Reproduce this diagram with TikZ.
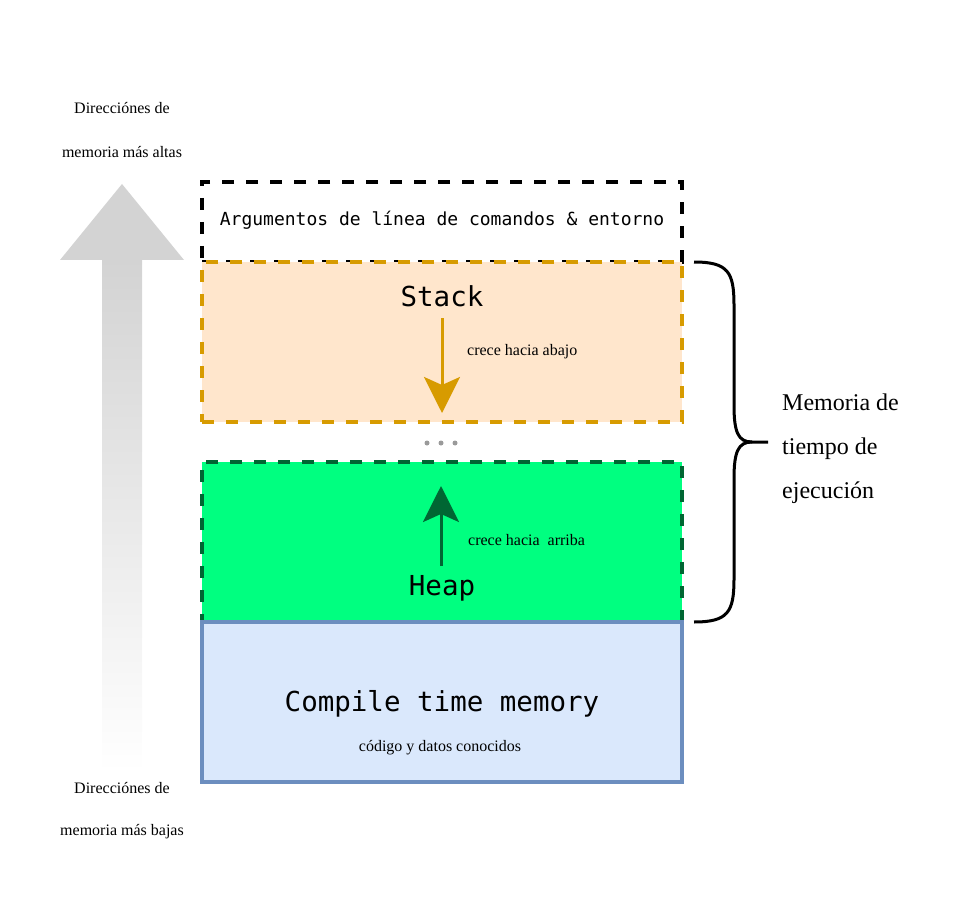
\documentclass[tikz,border=0pt]{standalone}
\usepackage{fontspec}
\setmainfont{Liberation Serif}
\setmonofont{DejaVu Sans Mono}
\usetikzlibrary{arrows.meta}
\definecolor{stackfill}{HTML}{FFE6CC}
\definecolor{stackline}{HTML}{D79B00}
\definecolor{heapfill}{HTML}{00FF80}
\definecolor{heapline}{HTML}{006633}
\definecolor{ctfill}{HTML}{DAE8FC}
\definecolor{ctline}{HTML}{6C8EBF}
\definecolor{biggray}{HTML}{D3D3D3}
\definecolor{dotgray}{HTML}{9A9A9A}
\tikzset{
  membox/.style={rectangle, minimum width=480pt, inner sep=0pt, line width=3.5pt},
  dashbox/.style={membox, dash pattern=on 12pt off 12pt},
  monotitle/.style={font=\ttfamily\fontsize{27.5}{32}\selectfont, inner sep=0pt},
  smalltxt/.style={font=\fontsize{16}{19}\selectfont, inner sep=0pt},
  bigtxt/.style={font=\fontsize{24}{28}\selectfont, inner sep=0pt, anchor=base west},
  growarrow/.style={line width=3pt, -{Stealth[length=36pt,width=36pt,inset=8pt]}},
}
\begin{document}
\begin{tikzpicture}[x=1pt,y=-1pt]
\useasboundingbox (0,0) rectangle (972,920);
% big gray arrow
\shade[top color=biggray, bottom color=white] (102,259) rectangle (142,772);
\fill[biggray] (60,260) -- (122,184) -- (184,260) -- cycle;
% left labels
\node[smalltxt] (hi1) at (122,108) {Direcciónes de};
\node[smalltxt] (hi2) at (122,152) {memoria más altas};
\node[smalltxt] (lo1) at (122,788) {Direcciónes de};
\node[smalltxt] (lo2) at (122,832) {memoria más bajas};
% boxes
\node[dashbox, draw=black, minimum height=80pt] (args) at (442,222) {};
\node[dashbox, draw=stackline, fill=stackfill, minimum height=160pt] (stack) at (442,342) {};
\node[dashbox, draw=heapline, fill=heapfill, minimum height=160pt] (heap) at (442,542) {};
\node[membox, draw=ctline, fill=ctfill, minimum height=160pt] (ct) at (442,702) {};
% texts
\node[font=\ttfamily\fontsize{18}{22}\selectfont, inner sep=0pt] (argst) at (442,220) {Argumentos de línea de comandos \& entorno};
\node[monotitle] (stackt) at (442,296) {Stack};
\node[monotitle] (heapt) at (442,588) {Heap};
\node[monotitle] (ctt) at (442,704) {Compile time memory};
\node[smalltxt] (ctsub) at (440,748) {código y datos conocidos};
\node[smalltxt, anchor=west] (down) at (467,352) {crece hacia abajo};
\node[smalltxt, anchor=west] (up) at (468,540) {crece hacia\ \ arriba};
% arrows
\coordinate (sa1) at (442,318);
\coordinate (sa2) at (442,413);
\draw[growarrow, stackline] (sa1) -- (sa2);
\coordinate (ha1) at (441,566);
\coordinate (ha2) at (441,486);
\draw[growarrow, heapline] (ha1) -- (ha2);
% dots
\foreach \dx in {427,441,455}
  \fill[dotgray] (\dx,443) circle (2.5pt);
% brace
\coordinate (bt) at (694,262);
\coordinate (bm) at (768,442);
\coordinate (bb) at (694,622);
\draw[line width=3pt, line join=round] (bt) .. controls (728,262) and (734,272) .. (734,305)
  -- (734,405) .. controls (734,432) and (738,442) .. (752,442) -- (bm);
\draw[line width=3pt, line join=round] (bb) .. controls (728,622) and (734,612) .. (734,579)
  -- (734,479) .. controls (734,452) and (738,442) .. (752,442);
\node[bigtxt] (rt1) at (782,410) {Memoria de};
\node[bigtxt] (rt2) at (782,454) {tiempo de};
\node[bigtxt] (rt3) at (782,498) {ejecución};
\end{tikzpicture}
\end{document}
